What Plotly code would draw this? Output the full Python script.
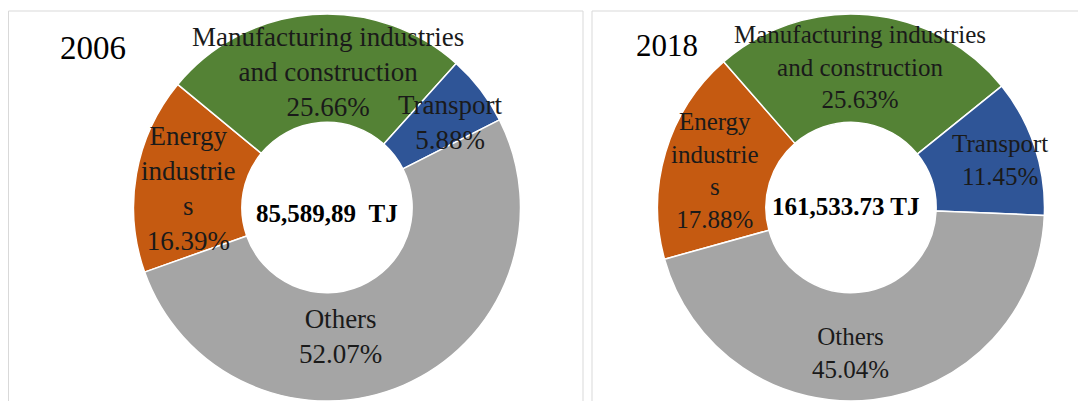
import plotly.graph_objects as go

# ---- data ----
categories = ["Energy industries", "Manufacturing industries and construction", "Transport", "Others"]
label_lines = ["Energy<br>industrie<br>s", "Manufacturing industries<br>and construction", "Transport", "Others"]
shares_2006 = [16.39, 25.66, 5.88, 52.07]
shares_2018 = [17.88, 25.63, 11.45, 45.04]
years = ["2006", "2018"]
totals = ["85,589,89\u00a0\u00a0TJ", "161,533.73 TJ"]

# ---- styles / layout ----
colors = ["#C55A11", "#548235", "#2F5597", "#A5A5A5"]
FONT = "Liberation Serif, Times New Roman, serif"
OFF = 8                      # page body margin
W, H = 1086 - OFF, 401 - OFF  # figure size
M_T = 6


def px(x, y):
    """page pixel -> paper coordinates"""
    return (x - OFF) / W, (H - (y - OFF)) / (H - M_T)


panels = [
    dict(values=shares_2006, cx=327, rotation=250.5, fs=27, year_pos=(93, 48), year_fs=33,
         center_pos=(327, 213),
         label_pos=[(188, 188), (328, 72), (450, 122), (340, 336)], box=(8.5, 583)),
    dict(values=shares_2018, cx=851, rotation=254.5, fs=25, year_pos=(667, 46), year_fs=31,
         center_pos=(845, 207),
         label_pos=[(715, 170), (860, 67), (1000, 160), (850, 353)], box=(592, 1110)),
]

fig = go.Figure()
annotations = []
shapes = []

for i, p in enumerate(panels):
    half = 200
    fig.add_trace(go.Pie(
        labels=categories,
        values=p["values"],
        hole=0.44,
        sort=False,
        direction="clockwise",
        rotation=p["rotation"],
        marker=dict(colors=colors, line=dict(color="white", width=1.5)),
        textinfo="none",
        hoverinfo="label+percent",
        showlegend=False,
        domain=dict(x=[(p["cx"] - OFF - half) / W, (p["cx"] - OFF + half) / W], y=[0, 1]),
    ))
    # panel border
    x0, x1 = p["box"]
    _, ytop = px(0, 11)
    shapes.append(dict(type="rect", xref="paper", yref="paper",
                       x0=(x0 - OFF) / W, x1=(x1 - OFF) / W, y0=-0.2, y1=ytop,
                       line=dict(color="#D9D9D9", width=1), fillcolor="rgba(0,0,0,0)",
                       layer="below"))
    # slice labels
    for lab, val, pos in zip(label_lines, p["values"], p["label_pos"]):
        ax, ay = px(*pos)
        annotations.append(dict(
            x=ax, y=ay, xref="paper", yref="paper", showarrow=False,
            xanchor="center", yanchor="middle", align="center",
            text=f"{lab}<br>{val:.2f}%",
            font=dict(family=FONT, size=p["fs"], color="#1a1a1a"),
        ))
    # center total
    cx, cy = px(*p["center_pos"])
    annotations.append(dict(
        x=cx, y=cy, xref="paper", yref="paper", showarrow=False,
        xanchor="center", yanchor="middle",
        text=f"<b>{totals[i]}</b>",
        font=dict(family=FONT, size=25, color="#000000"),
    ))
    # year
    yx, yy = px(*p["year_pos"])
    annotations.append(dict(
        x=yx, y=yy, xref="paper", yref="paper", showarrow=False,
        xanchor="center", yanchor="middle",
        text=years[i],
        font=dict(family=FONT, size=p["year_fs"], color="#000000"),
    ))

fig.update_layout(
    width=W, height=H,
    margin=dict(l=0, r=0, t=M_T, b=0),
    paper_bgcolor="white",
    plot_bgcolor="white",
    annotations=annotations,
    shapes=shapes,
)

fig.write_html("out.html")
